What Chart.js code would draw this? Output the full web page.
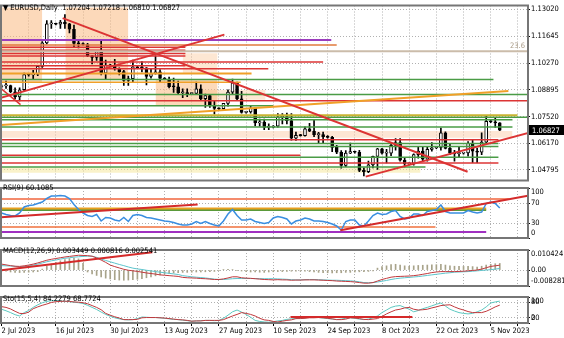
<!DOCTYPE html>
<html><head><meta charset="utf-8">
<script src="https://cdn.jsdelivr.net/npm/chart.js@4.4.1/dist/chart.umd.min.js"></script>
<style>
html,body{margin:0;padding:0;background:#fff;width:564px;height:338px;overflow:hidden;position:relative;}
canvas{position:absolute;left:0;}
.lbl{position:absolute;color:#000;white-space:pre;line-height:1;z-index:5;}
</style></head><body>
<canvas id="cMain" width="564" height="186" style="top:0px"></canvas>
<canvas id="cRsi" width="564" height="70" style="top:178px"></canvas>
<canvas id="cMacd" width="564" height="56" style="top:240px"></canvas>
<canvas id="cSto" width="564" height="51" style="top:287px"></canvas>
<div class="lbl" id="tMain" style="left:3px;top:4px">▼ EURUSD,Daily  1.07204 1.07218 1.06810 1.06827</div>
<div class="lbl" id="tRsi" style="left:3px;top:184px">RSI(9) 60.1085</div>
<div class="lbl" id="tMacd" style="left:3px;top:247px">MACD(12,26,9) 0.003449 0.000816 0.002541</div>
<div class="lbl" id="tSto" style="left:3px;top:295px">Sto(15,5,4) 84.2279 68.7724</div>
<script>
// ---------------- DATA ----------------
const open = [1.0905,1.0910,1.0912,1.0880,1.0853,1.0890,1.0968,1.0966,1.0970,1.1010,
1.1130,1.1228,1.1228,1.1226,1.1237,1.1228,1.1200,1.1128,1.1125,1.1122,
1.1064,1.1056,1.1086,1.0975,1.1015,1.1013,1.0998,1.0983,1.0938,1.0947,
1.1007,1.1003,1.1002,1.0958,1.0973,1.0982,1.0948,1.0945,1.0906,1.0905,
1.0875,1.0875,1.0870,1.0871,1.0895,1.0845,1.0860,1.0810,1.0795,1.0793,
1.0820,1.0878,1.0925,1.0843,1.0774,1.0777,1.0795,1.0720,1.0725,1.0697,
1.0699,1.0703,1.0752,1.0753,1.0732,1.0642,1.0657,1.0655,1.0690,1.0678,
1.0660,1.0660,1.0650,1.0646,1.0595,1.0570,1.0503,1.0565,1.0573,1.0570,
1.0477,1.0470,1.0505,1.0549,1.0587,1.0565,1.0565,1.0605,1.0620,1.0529,
1.0510,1.0512,1.0558,1.0576,1.0535,1.0585,1.0593,1.0595,1.0670,1.0590,
1.0565,1.0563,1.0565,1.0567,1.0616,1.0576,1.0570,1.0622,1.0728,1.0726,1.07204];
const high = [1.0915,1.0935,1.0914,1.0900,1.0900,1.0975,1.0973,1.0990,1.1013,1.1137,
1.1245,1.1245,1.1232,1.1246,1.1276,1.1230,1.1221,1.1147,1.1130,1.1128,
1.1065,1.1090,1.1149,1.1042,1.1020,1.1046,1.1002,1.0990,1.0960,1.1042,
1.1010,1.1035,1.1004,1.0995,1.1064,1.0993,1.0952,1.0955,1.0950,1.0935,
1.0895,1.0895,1.0874,1.0930,1.0915,1.0868,1.0865,1.0834,1.0798,1.0820,
1.0890,1.0945,1.0929,1.0882,1.0780,1.0810,1.0800,1.0740,1.0740,1.0715,
1.0706,1.0768,1.0768,1.0770,1.0768,1.0673,1.0662,1.0700,1.0718,1.0737,
1.0672,1.0673,1.0655,1.0652,1.0605,1.0578,1.0578,1.0617,1.0576,1.0580,
1.0490,1.0525,1.0550,1.0590,1.0590,1.0585,1.0610,1.0640,1.0640,1.0540,
1.0516,1.0562,1.0595,1.0600,1.0595,1.0619,1.0598,1.0694,1.0675,1.0610,
1.0580,1.0595,1.0570,1.0625,1.0634,1.0590,1.0669,1.0756,1.0733,1.0746,1.07218];
const low = [1.0900,1.0897,1.0875,1.0843,1.0833,1.0880,1.0960,1.0945,1.0962,1.1005,
1.1125,1.1205,1.1222,1.1205,1.1205,1.1182,1.1106,1.1105,1.1118,1.1060,
1.1022,1.1040,1.0966,1.0944,1.1010,1.0990,1.0966,1.0912,1.0912,1.0930,
1.1000,1.0982,1.0915,1.0950,1.0970,1.0930,1.0942,1.0900,1.0877,1.0866,
1.0850,1.0855,1.0865,1.0865,1.0835,1.0800,1.0800,1.0765,1.0788,1.0790,
1.0806,1.0870,1.0835,1.0770,1.0770,1.0770,1.0705,1.0703,1.0686,1.0686,
1.0695,1.0699,1.0715,1.0715,1.0632,1.0630,1.0652,1.0652,1.0675,1.0650,
1.0616,1.0615,1.0642,1.0573,1.0563,1.0488,1.0496,1.0562,1.0565,1.0470,
1.0448,1.0465,1.0490,1.0482,1.0560,1.0515,1.0552,1.0581,1.0524,1.0495,
1.0505,1.0504,1.0540,1.0525,1.0524,1.0575,1.0588,1.0580,1.0587,1.0558,
1.0524,1.0545,1.0560,1.0550,1.0516,1.0517,1.0558,1.0619,1.0722,1.0697,1.06810];
const close = [1.0910,1.0912,1.0880,1.0853,1.0890,1.0968,1.0966,1.0970,1.1010,1.1130,
1.1228,1.1228,1.1226,1.1237,1.1228,1.1200,1.1128,1.1125,1.1122,1.1064,
1.1056,1.1086,1.0975,1.1015,1.1013,1.0998,1.0983,1.0938,1.0947,1.1007,
1.1003,1.1002,1.0958,1.0973,1.0982,1.0948,1.0945,1.0906,1.0905,1.0875,
1.0875,1.0870,1.0871,1.0895,1.0845,1.0860,1.0810,1.0795,1.0793,1.0820,
1.0878,1.0925,1.0843,1.0774,1.0777,1.0795,1.0720,1.0725,1.0697,1.0699,
1.0703,1.0752,1.0753,1.0732,1.0642,1.0657,1.0655,1.0690,1.0678,1.0660,
1.0660,1.0650,1.0646,1.0595,1.0570,1.0503,1.0565,1.0573,1.0570,1.0477,
1.0470,1.0505,1.0549,1.0587,1.0565,1.0565,1.0605,1.0620,1.0529,1.0510,
1.0512,1.0558,1.0576,1.0535,1.0585,1.0593,1.0595,1.0670,1.0590,1.0565,
1.0563,1.0565,1.0567,1.0616,1.0576,1.0570,1.0622,1.0728,1.0726,1.07204,1.06827];

const rsi = [50,47,45,44,50,62,65,66,69,72,
79,84,84,85,84,79,67,57,50,45,
43,47,34,41,40,36,34,41,33,45,
47,45,41,40,38,36,34,33,31,28,
26,26,28,33,29,33,29,26,24,34,
48,57,45,36,36,38,33,31,29,31,
40,43,41,38,28,34,36,40,38,34,
34,33,31,28,24,16,33,36,36,26,
24,34,45,50,47,48,53,55,43,38,
40,48,48,45,53,55,57,66,53,50,
50,50,50,55,52,50,52,69,72,69,60.1085];

const macdMain = [0.0031,0.0027,0.0023,0.0020,0.0019,0.0022,0.0026,0.0031,0.0037,0.0044,
0.0051,0.0056,0.0060,0.0064,0.0068,0.0071,0.0074,0.0077,0.0076,0.0075,
0.0072,0.0063,0.0052,0.0040,0.0026,0.0018,0.0011,0.0004,-0.0001,-0.0004,
-0.0007,-0.0011,-0.0015,-0.0018,-0.0021,-0.0025,-0.0027,-0.0029,-0.0031,-0.0033,
-0.0038,-0.0040,-0.0041,-0.0042,-0.0044,-0.0045,-0.0047,-0.0049,-0.0049,-0.0046,
-0.0041,-0.0035,-0.0035,-0.0040,-0.0042,-0.0043,-0.0045,-0.0047,-0.0049,-0.0050,
-0.0051,-0.0050,-0.0051,-0.0051,-0.0053,-0.0052,-0.0052,-0.0051,-0.0051,-0.0051,
-0.0052,-0.0053,-0.0054,-0.0055,-0.0057,-0.0058,-0.0059,-0.0060,-0.0062,-0.0065,
-0.0068,-0.0068,-0.0065,-0.0057,-0.0049,-0.0043,-0.0037,-0.0034,-0.0033,-0.0032,
-0.0031,-0.0029,-0.0026,-0.0022,-0.0018,-0.0013,-0.0010,-0.0008,-0.0008,-0.0008,
-0.0008,-0.0007,-0.0006,-0.0004,-0.0002,0.0000,0.0005,0.0012,0.0019,0.0022,0.002541];
const macdSignal = [0.0023,0.0022,0.0021,0.0019,0.0017,0.0018,0.0021,0.0026,0.0031,0.0037,
0.0043,0.0048,0.0052,0.0057,0.0061,0.0064,0.0067,0.0069,0.0071,0.0072,
0.0072,0.0066,0.0057,0.0050,0.0043,0.0036,0.0029,0.0023,0.0016,0.0010,
0.0006,0.0003,-0.0001,-0.0004,-0.0008,-0.0011,-0.0014,-0.0017,-0.0020,-0.0023,
-0.0029,-0.0032,-0.0035,-0.0037,-0.0039,-0.0041,-0.0044,-0.0047,-0.0049,-0.0049,
-0.0047,-0.0045,-0.0044,-0.0044,-0.0044,-0.0044,-0.0044,-0.0045,-0.0045,-0.0045,
-0.0045,-0.0046,-0.0047,-0.0048,-0.0050,-0.0051,-0.0051,-0.0050,-0.0049,-0.0049,
-0.0050,-0.0051,-0.0052,-0.0053,-0.0053,-0.0054,-0.0055,-0.0056,-0.0058,-0.0061,
-0.0065,-0.0066,-0.0065,-0.0062,-0.0058,-0.0054,-0.0049,-0.0045,-0.0042,-0.0040,
-0.0038,-0.0036,-0.0034,-0.0031,-0.0028,-0.0025,-0.0022,-0.0019,-0.0016,-0.0014,
-0.0011,-0.0010,-0.0009,-0.0008,-0.0006,-0.0004,-0.0002,0.0000,0.0002,0.0005,0.000816];
const macdHist = [-0.0004,-0.0006,-0.0010,-0.0012,-0.0013,-0.0012,-0.0011,-0.0010,-0.0008,0.0005,
0.0020,0.0032,0.0040,0.0048,0.0055,0.0060,0.0062,0.0058,0.0035,-0.0010,
-0.0020,-0.0028,-0.0036,-0.0042,-0.0046,-0.0050,-0.0052,-0.0053,-0.0052,-0.0050,
-0.0048,-0.0045,-0.0040,-0.0035,-0.0030,-0.0025,-0.0020,-0.0018,-0.0015,-0.0013,
-0.0012,-0.0012,-0.0011,-0.0010,-0.0010,-0.0009,-0.0008,-0.0007,-0.0003,0.0002,
0.0004,0.0003,-0.0003,-0.0005,-0.0008,-0.0010,-0.0010,-0.0011,-0.0012,-0.0010,
-0.0009,-0.0008,-0.0008,-0.0007,-0.0006,-0.0006,-0.0005,-0.0006,-0.0008,-0.0010,
-0.0012,-0.0013,-0.0014,-0.0015,-0.0014,-0.0014,-0.0012,-0.0012,-0.0010,-0.0009,
-0.0008,-0.0007,-0.0005,0.0010,0.0018,0.0022,0.0028,0.0030,0.0026,0.0022,
0.0020,0.0022,0.0024,0.0025,0.0026,0.0027,0.0028,0.0030,0.0026,0.0022,
0.0020,0.0020,0.0019,0.0020,0.0018,0.0016,0.0020,0.0026,0.0030,0.0033,0.003449];

const stoMain = [53,47,40,32,27,40,48,60,70,78,
83,86,86,84,83,82,80,78,75,68,
60,52,42,33,26,20,16,13,12,13,
17,23,22,21,21,20,18,16,14,13,
11,9,7,8,9,10,10,9,10,18,
30,43,50,42,33,22,10,6,4,3,
5,8,10,14,16,17,18,20,22,23,
21,19,17,15,13,15,18,20,18,15,
13,15,20,27,40,50,60,65,67,60,
53,43,48,55,60,66,72,77,65,53,
46,40,37,35,37,43,50,62,77,81,84.2279];
const stoSignal = [63,60,54,45,37,36,42,55,62,68,
73,79,82,83,84,83,81,80,78,74,
67,60,51,37,30,24,19,13,13,13,
14,20,21,21,21,20,19,17,15,13,
12,10,7,8,8,10,10,10,10,13,
20,27,33,40,37,33,27,18,12,10,
6,4,7,10,12,17,17,18,20,20,
21,20,18,16,13,13,15,20,19,17,
14,13,15,17,25,35,43,50,53,58,
60,53,50,51,53,58,62,67,69,70,
62,55,50,44,40,40,40,45,53,62,68.7724];

// tick values / labels
const priceTicks = [1.04795,1.06170,1.07520,1.08895,1.10270,1.11645,1.13020];
const priceTickLabels = ['1.04795','1.06170','1.07520','1.08895','1.10270','1.11645','1.13020'];
const rsiTicks = [0,30,70,100];
const rsiTickLabels = ['0','30','70','100'];
const macdTicks = [-0.008281,0,0.010424];
const macdTickLabels = ['-0.008281','0.00','0.010424'];
const stoTicks = [0,20,80,100];
const stoTickLabels = ['0','20','80','100'];
const xTickIndex = [0,12,24,36,48,60,72,84,96,108];
const xTickLabels = ['2 Jul 2023','16 Jul 2023','30 Jul 2023','13 Aug 2023','27 Aug 2023','10 Sep 2023','24 Sep 2023','8 Oct 2023','22 Oct 2023','5 Nov 2023'];
const weekGridIndex = [0,6,12,18,24,30,36,42,48,54,60,66,72,78,84,90,96,102,108,114];

// drawn objects (data coordinates: bar index, value)
const mainLevelPrice = [1.11450,1.11201,1.10878,1.11077,1.10927,1.10753,1.10628,1.10329,1.10130,1.09981,
  1.09731,1.09433,1.09283,1.08660,1.08336,1.08087,1.07589,1.07489,1.07365,1.06991,
  1.06343,1.06144,1.05995,1.05546,1.05446,1.05148,1.04948];
const mainLevelEnd = [72.8,74,117,40.6,40.6,40.6,40.6,71,40.6,58.9,
  55.2,108.6,52.8,117,117,60,113.9,117,112.8,112.8,
  109.7,109.7,109.7,66,109.7,109.7,93.6];
const mainTrendLines = [[13.5,1.12572,102.9,1.04699],[80.4,1.04450,116.3,1.06692],[-0.22,1.08486,49.2,1.11725],[-0.22,1.08984,4.2,1.08137],[-0.22,1.07091,111.9,1.08835]];
const mainRects = [[-1,9.0,1.13120,1.09283],[14.1,28.0,1.13120,1.09433],[34,47.7,1.09433,1.08087],[40,47.7,1.10778,1.09731],[44,58.3,1.08884,1.08386],[-1,112.8,1.06792,1.06443],[-1,92.5,1.04898,1.04649]];
const fibLevel = 1.10878, fibText = '23.6';
const rsiLevelValue = [78,59,56,22,12];
const rsiLevelEnd = [112,107,107,95.8,107];
const rsiTrendLines = [[-0.11,41.4,43.3,67.2],[74.8,15.5,116.2,84.5]];
const macdTrendLines = [[-0.11,-0.00015,33.3,0.0092]];
const stoLevelSeg = [[63.8,23,90.7,23]];

// ---------------- STYLE ----------------
const RED='#dc3434', GREEN='#4a9c46', ORANGE='#f0a028';
const mainLevelStyle = [['#9b3dbd',2],['#e07a3c',1.5],['#cbbcaa',2],[RED,1.5],[RED,1.5],[RED,1.5],[RED,1.5],[RED,1.5],[RED,1.5],[RED,1.5],
  [ORANGE,2],[GREEN,1.5],[ORANGE,1.5],[GREEN,1.5],[RED,1.5],[GREEN,1.5],['#c8b432',2],[GREEN,1.5],[GREEN,1.5],[GREEN,1.5],
  [RED,1.5],[GREEN,1.5],[GREEN,1.5],[RED,1.5],[GREEN,1.5],[RED,1.5],[GREEN,1.5]];
const mainTrendStyle = [[RED,2],[RED,2],[RED,2],[RED,1.5],[ORANGE,2]];
const rectStyle = ['rgba(250,185,130,0.55)','rgba(250,185,130,0.55)','rgba(250,185,130,0.55)','rgba(250,185,130,0.35)','rgba(250,185,130,0.35)','rgba(250,200,160,0.45)','rgba(245,230,150,0.5)'];
const rsiLevelStyle = [['#f0643c',1.5],['#e8a020',2],['#5a9a3a',2],['#f0703c',1.5],['#a030c0',2]];

function pickFont(){
  const c=document.createElement('canvas').getContext('2d');
  const t='1.13020 EURUSD,Daily';
  c.font='40px monospace'; const m=c.measureText(t).width;
  c.font='40px "Liberation Sans Narrow", monospace'; const n=c.measureText(t).width;
  if(Math.abs(n-m)>0.5) return {family:'"Liberation Sans Narrow"', size:8};
  c.font='40px "DejaVu Sans Condensed", monospace'; const d=c.measureText(t).width;
  if(Math.abs(d-m)>0.5) return {family:'"DejaVu Sans Condensed"', size:7.5};
  return {family:'"Liberation Sans"', size:7.5};
}
const F = pickFont();
for (const id of ['tMain','tRsi','tMacd','tSto']) { const el=document.getElementById(id); el.style.fontFamily=F.family; el.style.fontSize=F.size+'px'; }

const X_MIN=-0.11, X_MAX=116.23;
const GRID='#b0b0b0';

// clampEnds: pane min/max labels are pushed inside the pane (as in the terminal)
function yAxis(min,max,ticks,labels,clampEnds){
  return {position:'right', min, max,
    afterBuildTicks: s => { s.ticks = ticks.map(v=>({value:v})); },
    afterFit: s => { s.width = 36; },
    grid:{color:GRID, lineWidth:1, drawTicks:true, tickLength:2, tickColor:'#000', tickWidth:1},
    border:{display:false, dash:[1,2]},
    ticks:{autoSkip:false, padding:1, color:'#000', font:{family:F.family, size:F.size},
      callback: v => {
        const k=ticks.indexOf(v); if(k<0) return '';
        const t=labels[k];
        if(clampEnds && v===max) return ['', t];
        if(clampEnds && v===min) return [t, ''];
        return t;
      }}
  };
}
function xAxis(show){
  return {type:'linear', min:X_MIN, max:X_MAX, offset:false,
    afterBuildTicks: s => { s.ticks = weekGridIndex.map(v=>({value:v})); },
    afterFit: s => { s.height = show ? 15 : 0; },
    grid:{color:GRID, lineWidth:1, drawTicks:show, tickLength:3, tickColor:'#000', offset:false},
    border:{display:false, dash:[1,2]},
    ticks:{display:show, autoSkip:false, maxRotation:0, minRotation:0, align:'start', padding:1, color:'#000',
      font:{family:F.family, size:F.size},
      callback: v => { const k=xTickIndex.indexOf(v); return k>=0?xTickLabels[k]:''; }}
  };
}
function seg(x1,y1,x2,y2,color,width,order){
  return {type:'line', data:[{x:x1,y:y1},{x:x2,y:y2}], borderColor:color, borderWidth:width, pointRadius:0, fill:false, tension:0, order};
}
const framePlugin = {id:'frame', afterDraw(chart){
  const {ctx, chartArea:a} = chart;
  ctx.save(); ctx.strokeStyle='#767676'; ctx.lineWidth=2;
  ctx.strokeRect(a.left, a.top, a.right-a.left, a.bottom-a.top);
  ctx.restore();
}};
function baseOpts(pt,pb,show,ymin,ymax,ticks,labels,clampEnds){
  return {animation:false, responsive:false, maintainAspectRatio:false, events:[],
    layout:{padding:{left:1,right:0,top:pt,bottom:pb}},
    plugins:{legend:{display:false}, tooltip:{enabled:false}},
    scales:{x:xAxis(show), y:yAxis(ymin,ymax,ticks,labels,clampEnds)}};
}

// ---------------- MAIN PRICE PANE ----------------
const idx = close.map((_,i)=>i);
const mainDs = [];
mainRects.forEach((r,k)=>mainDs.push({type:'line', data:[{x:r[0],y:r[2]},{x:r[1],y:r[2]}], borderColor:'rgba(0,0,0,0)', borderWidth:0, pointRadius:0, backgroundColor:rectStyle[k], fill:{value:r[3]}, order:30}));
mainDs.push({type:'bar', data:idx.map(i=>({x:i,y:[low[i],high[i]]})), backgroundColor:'#000', barThickness:1, grouped:false, order:8});
mainDs.push({type:'bar', data:idx.map(i=>({x:i,y:[open[i],close[i]]})), backgroundColor:idx.map(i=>close[i]>=open[i]?'#fff':'#000'), borderColor:'#000', borderWidth:1, borderSkipped:false, barThickness:3, minBarLength:1, grouped:false, order:7});
mainLevelPrice.forEach((p,k)=>mainDs.push(seg(-1,p,mainLevelEnd[k],p,mainLevelStyle[k][0],mainLevelStyle[k][1],3)));
mainTrendLines.forEach((t,k)=>mainDs.push(seg(t[0],t[1],t[2],t[3],mainTrendStyle[k][0],mainTrendStyle[k][1],2)));

const mainExtras = {id:'mainExtras', afterDraw(chart){
  const {ctx, chartArea:a, scales:{y}} = chart;
  ctx.save();
  ctx.font = F.size+'px '+F.family;
  ctx.fillStyle='#a89a86'; ctx.textAlign='right'; ctx.textBaseline='bottom';
  ctx.fillText(fibText, a.right-3, y.getPixelForValue(fibLevel)-1);
  const last = close[close.length-1];
  const py = y.getPixelForValue(last);
  ctx.fillStyle='#000'; ctx.fillRect(a.right+1, Math.round(py)-5, 35, 10);
  ctx.fillStyle='#fff'; ctx.textAlign='left'; ctx.textBaseline='middle';
  ctx.fillText(last.toFixed(5), a.right+4, py+0.5);
  ctx.restore();
}};
new Chart(document.getElementById('cMain'), {type:'bar', data:{datasets:mainDs},
  options: baseOpts(1,5,false,1.04251,1.13219,priceTicks,priceTickLabels,false), plugins:[framePlugin, mainExtras]});

// ---------------- RSI PANE ----------------
const rsiDs = [];
rsiLevelValue.forEach((v,k)=>rsiDs.push(seg(-1,v,rsiLevelEnd[k],v,rsiLevelStyle[k][0],rsiLevelStyle[k][1],4)));
rsiDs.push({type:'line', data:idx.map(i=>({x:i,y:rsi[i]})), borderColor:'#3a8ee0', borderWidth:1.5, pointRadius:0, fill:false, tension:0, order:2});
rsiTrendLines.forEach(t=>rsiDs.push(seg(t[0],t[1],t[2],t[3],'#d42a2a',2,1)));
new Chart(document.getElementById('cRsi'), {type:'line', data:{datasets:rsiDs},
  options: baseOpts(6,6,false,0,100,rsiTicks,rsiTickLabels,true), plugins:[framePlugin]});

// ---------------- MACD PANE ----------------
const macdDs = [];
macdDs.push({type:'bar', data:idx.map(i=>({x:i,y:macdHist[i]})), backgroundColor:'#a8a38a', barThickness:1, grouped:false, order:5});
macdDs.push({type:'line', data:idx.map(i=>({x:i,y:macdSignal[i]})), borderColor:'#5cc4cc', borderWidth:1, pointRadius:0, fill:false, tension:0, order:3});
macdDs.push({type:'line', data:idx.map(i=>({x:i,y:macdMain[i]})), borderColor:'#c0383c', borderWidth:1, pointRadius:0, fill:false, tension:0, order:2});
macdTrendLines.forEach(t=>macdDs.push(seg(t[0],t[1],t[2],t[3],'#d42a2a',2,1)));
new Chart(document.getElementById('cMacd'), {type:'bar', data:{datasets:macdDs},
  options: baseOpts(5,5,false,-0.008281,0.010424,macdTicks,macdTickLabels,true), plugins:[framePlugin]});

// ---------------- STOCHASTIC PANE ----------------
const stoDs = [];
stoDs.push({type:'line', data:idx.map(i=>({x:i,y:stoMain[i]})), borderColor:'#5cc8c0', borderWidth:1, pointRadius:0, fill:false, tension:0, order:3});
stoDs.push({type:'line', data:idx.map(i=>({x:i,y:stoSignal[i]})), borderColor:'#c0383c', borderWidth:1, pointRadius:0, fill:false, tension:0, order:2});
stoLevelSeg.forEach(t=>stoDs.push(seg(t[0],t[1],t[2],t[3],'#d42a2a',2,1)));
new Chart(document.getElementById('cSto'), {type:'line', data:{datasets:stoDs},
  options: baseOpts(6,0,true,0,100,stoTicks,stoTickLabels,true), plugins:[framePlugin]});
</script>
</body></html>
